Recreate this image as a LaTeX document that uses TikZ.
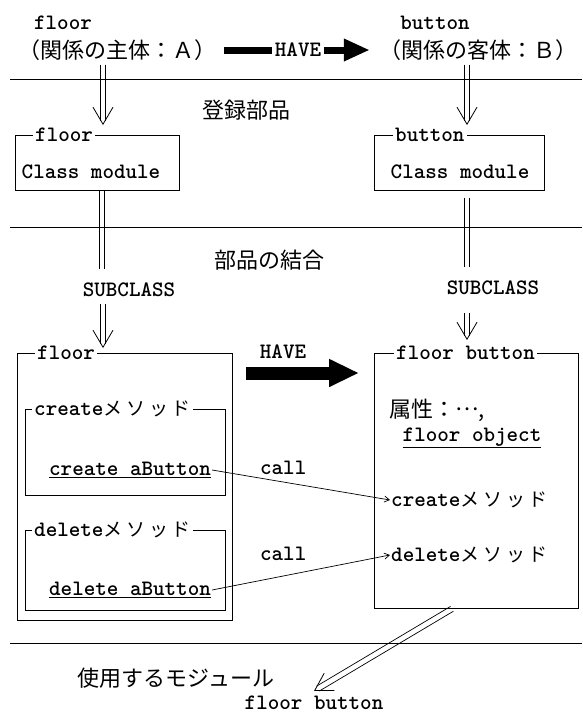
\documentclass[tikz,border=0pt]{standalone}
\usepackage{fontspec}
\usepackage{tikz}
\usetikzlibrary{arrows.meta}
\usetikzlibrary{positioning}
\usetikzlibrary{calc}
\newfontfamily\jpf{Noto Sans CJK JP}
\newfontfamily\jpwf[LetterSpace=20]{Noto Sans CJK JP}
\newcommand{\K}[1]{{\jpwf\mdseries\fontsize{19}{22}\selectfont #1}}
\tikzset{
    lat/.style = {inner sep=1pt, font=\ttfamily\bfseries\fontsize{22}{24}\selectfont},
    jp/.style = {inner sep=1pt, font=\jpf\fontsize{22}{24}\selectfont},
    box/.style = {rectangle, draw=black, line width=0.8pt, anchor=north west, inner sep=0pt},
    boxtitle/.style = {lat, fill=white, anchor=west, inner xsep=2pt},
    sep/.style = {line width=0.8pt},
    thinl/.style = {line width=0.7pt},
    vtip/.style = {line width=0.8pt, -{Straight Barb[length=17pt, width=20pt]}},
    fat/.style = {line width=7pt, -{Triangle[length=26pt, width=21pt]}},
    fatb/.style = {line width=13pt, -{Triangle[length=30pt, width=26pt]}},
    calledge/.style = {line width=0.7pt, -{Straight Barb[length=5pt, width=6pt]}},
}
% two parallel lines
\newcommand{\dbl}[2]{%
  \draw[thinl] ($(#1)!2.8pt!90:(#2)$) -- ($(#2)!2.8pt!-90:(#1)$);
  \draw[thinl] ($(#1)!2.8pt!-90:(#2)$) -- ($(#2)!2.8pt!90:(#1)$);}
% two parallel lines with an open V head
\newcommand{\dblarrow}[2]{%
  \coordinate (dbltmp) at ($(#2)!4.5pt!(#1)$);
  \dbl{#1}{dbltmp}
  \draw[vtip] ($(#2)!2pt!(#1)$) -- (#2);}

\begin{document}
\begin{tikzpicture}[x=1pt, y=-1pt]
\useasboundingbox (0,0) rectangle (582,715);
% relation
\node[lat] (aname) at (63,23) {floor};
\node[jp] (subjA) at (118,50) {（関係の主体：Ａ）};
\node[lat] (bname) at (435,23) {button};
\node[jp] (objB) at (478,50) {（関係の客体：Ｂ）};
\draw[fat, shorten <=6pt, shorten >=8pt] (subjA) -- node[lat, fill=white, inner xsep=3pt] {HAVE} (objB);
\draw[sep] (10,79) -- (582,79);

% registered parts
\node[jp] (reg) at (246,110) {登録部品};
\node[box, minimum width=164, minimum height=55] (fcm) at (15,135) {};
\node[boxtitle] at ([xshift=18pt]fcm.north west) {floor};
\node[lat] (fcmtxt) at (91,172) {Class module};
\node[box, minimum width=170, minimum height=55] (bcm) at (374,135) {};
\node[boxtitle] at ([xshift=19pt]bcm.north west) {button};
\node[lat] (bcmtxt) at (460,172) {Class module};
\path (subjA.south -| 103,0) ++(0,3) coordinate (a1);
\path (fcm.north -| 103,0) ++(0,-10) coordinate (a2);
\dblarrow{a1}{a2}
\path (objB.south -| 467,0) ++(0,3) coordinate (b1);
\path (bcm.north -| 467,0) ++(0,-10) coordinate (b2);
\dblarrow{b1}{b2}
\draw[sep] (10,227) -- (582,227);

% combination
\node[jp] (comb) at (269,260) {部品の結合};
\node[lat] (subL) at (129,290) {SUBCLASS};
\node[lat] (subR) at (493,288) {SUBCLASS};
\path (fcm.south -| 102,0) coordinate (l1);
\path (subL.north -| 102,0) ++(0,-13) coordinate (l2);
\dbl{l1}{l2}
\path (bcm.south -| 467,0) ++(0,7) coordinate (r1);
\path (subR.north -| 467,0) ++(0,-13) coordinate (r2);
\dbl{r1}{r2}

\node[box, minimum width=215, minimum height=267] (fouter) at (17,353) {};
\node[boxtitle] at ([xshift=18pt]fouter.north west) {floor};
\node[box, minimum width=204, minimum height=255] (fbox) at (374,353) {};
\node[boxtitle] at ([xshift=20pt]fbox.north west) {floor button};
\path (subL.south -| 103,0) ++(0,6) coordinate (c1);
\path (fouter.north -| 103,0) ++(0,-5) coordinate (c2);
\dblarrow{c1}{c2}
\path (subR.south -| 467,0) ++(0,17) coordinate (d1);
\path (fbox.north -| 467,0) ++(0,-13) coordinate (d2);
\dblarrow{d1}{d2}

\node[lat] (have) at (283,352) {HAVE};
\draw[fatb, shorten <=13pt, shorten >=15pt] (fouter.north east |- 0,373) -- (fbox.north west |- 0,373);

% methods
\node[box, minimum width=200, minimum height=86] (cbox) at (25,409) {};
\node[boxtitle] at ([xshift=7pt]cbox.north west) {create\K{メソッド}};
\node[lat] (ca) at (130,470) {\underline{create aButton}};
\node[box, minimum width=200, minimum height=80] (dbox) at (25,530) {};
\node[boxtitle] at ([xshift=7pt]dbox.north west) {delete\K{メソッド}};
\node[lat] (da) at (130,590) {\underline{delete aButton}};

\node[jp, anchor=west] (attr) at (388,410) {属性：\raisebox{0.3em}{…},};
\node[lat] (fobj) at (472,438) {\underline{floor object}};
\node[lat, anchor=west] (cm) at (390,500) {create\K{メソッド}};
\node[lat, anchor=west] (dm) at (390,555) {delete\K{メソッド}};
\draw[calledge] (ca.east) -- node[lat, pos=0.4, above=6pt] {call} (cm.west);
\draw[calledge] (da.east) -- node[lat, pos=0.4, above=14pt] {call} (dm.west);
\draw[sep] (10,643) -- (582,643);

% module used
\node[jp] (use) at (176,678) {使用するモジュール};
\node[lat] (fbmod) at (314,703) {floor button};
\path (fbox.south -| 452,0) coordinate (e1);
\path (fbmod.north) ++(0,-4) coordinate (e2);
\dblarrow{e1}{e2}
\end{tikzpicture}
\end{document}
